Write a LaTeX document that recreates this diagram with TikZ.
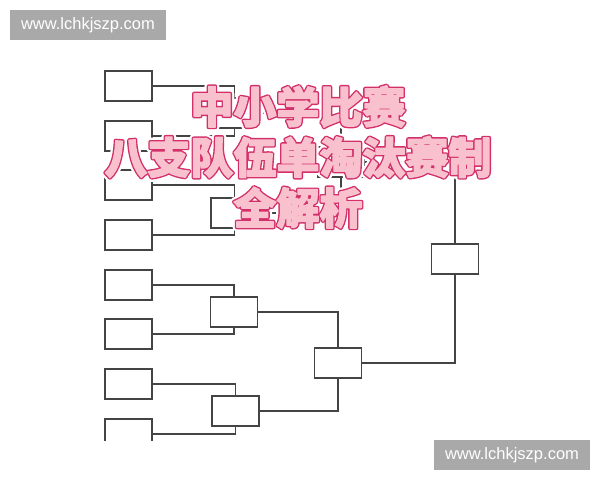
\documentclass[tikz,border=0pt]{standalone}
\usepackage{fontspec}
\setsansfont{Liberation Sans}
\newfontfamily\cjk{Noto Sans CJK SC}
\usepackage{tikz}

\definecolor{linegray}{HTML}{444444}
\definecolor{markgray}{HTML}{A9A9A9}
\definecolor{titlefill}{HTML}{F9C0CE}
\definecolor{titleedge}{HTML}{D3306A}

\newcommand\strokedtext[3]{\special{pdf:literal direct 2 Tr #1 w 1 j 1 J #2 RG}#3\special{pdf:literal direct 0 Tr}}
\newcommand\titlelines{中小学比赛\\八支队伍单淘汰赛制\\全解析}

\tikzset{
    teambox/.style={draw=linegray, line width=1.2pt, fill=white,
        minimum width=47pt, minimum height=30pt, inner sep=0pt},
    bracket/.style={draw=linegray, line width=1.2pt},
    watermark/.style={fill=markgray, text=white, font=\sffamily\fontsize{16.5}{18}\selectfont,
        minimum width=156pt, minimum height=30pt, inner sep=0pt},
    titletext/.style={align=center, inner sep=0pt,
        font=\cjk\bfseries\fontsize{43}{50.5}\selectfont}
}

\begin{document}
\begin{tikzpicture}[x=1pt,y=-1pt]
    \useasboundingbox[fill=white] (0,0) rectangle (600,480);

    \begin{scope}
    \clip (0,0) rectangle (600,440);
    \node[teambox] (t1) at (128.5,86) {};
    \node[teambox] (t2) at (128.5,136) {};
    \node[teambox] (t3) at (128.5,185) {};
    \node[teambox] (t4) at (128.5,235) {};
    \node[teambox] (t5) at (128.5,285) {};
    \node[teambox] (t6) at (128.5,334) {};
    \node[teambox] (t7) at (128.5,384) {};
    \node[teambox] (t8) at (128.5,434) {};

    \node[teambox] (q1) at (234.5,113) {};
    \node[teambox] (q2) at (234.5,213) {};
    \node[teambox] (q3) at (234,312) {};
    \node[teambox] (q4) at (235.5,411) {};

    \node[teambox] (s1) at (341,162) {};
    \node[teambox] (s2) at (338,363) {};

    \node[teambox] (champ) at (455,259) {};

    \draw[bracket] (t1.east) -| (q1.north);
    \draw[bracket] (t2.east) -| (q1.south);
    \draw[bracket] (t3.east) -| (q2.north);
    \draw[bracket] (t4.east) -| (q2.south);
    \draw[bracket] (t5.east) -| (q3.north);
    \draw[bracket] (t6.east) -| (q3.south);
    \draw[bracket] (t7.east) -| (q4.north);
    \draw[bracket] (t8.east) -| (q4.south);

    \draw[bracket] (q1.east) -| (s1.north);
    \draw[bracket] (q2.east) -| (s1.south);
    \draw[bracket] (q3.east) -| (s2.north);
    \draw[bracket] (q4.east) -| (s2.south);

    \draw[bracket] (s1.east) -| (champ.north);
    \draw[bracket] (s2.east) -| (champ.south);
    \end{scope}

    % title over the bracket: glow, edge, then fill
    \node[titletext, text=white] (titleglow) at (298,157)
        {\strokedtext{8.5}{1 1 1}{\titlelines}};
    \node[titletext, text=titleedge] (titleedge) at (298,157)
        {\strokedtext{4}{0.827 0.188 0.416}{\titlelines}};
    \node[titletext, text=titlefill] (title) at (298,157)
        {\strokedtext{1.2}{0.976 0.753 0.808}{\titlelines}};

    \node[watermark] (marktop) at (88,25) {www.lchkjszp.com};
    \node[watermark] (markbottom) at (512,455) {www.lchkjszp.com};
\end{tikzpicture}
\end{document}
